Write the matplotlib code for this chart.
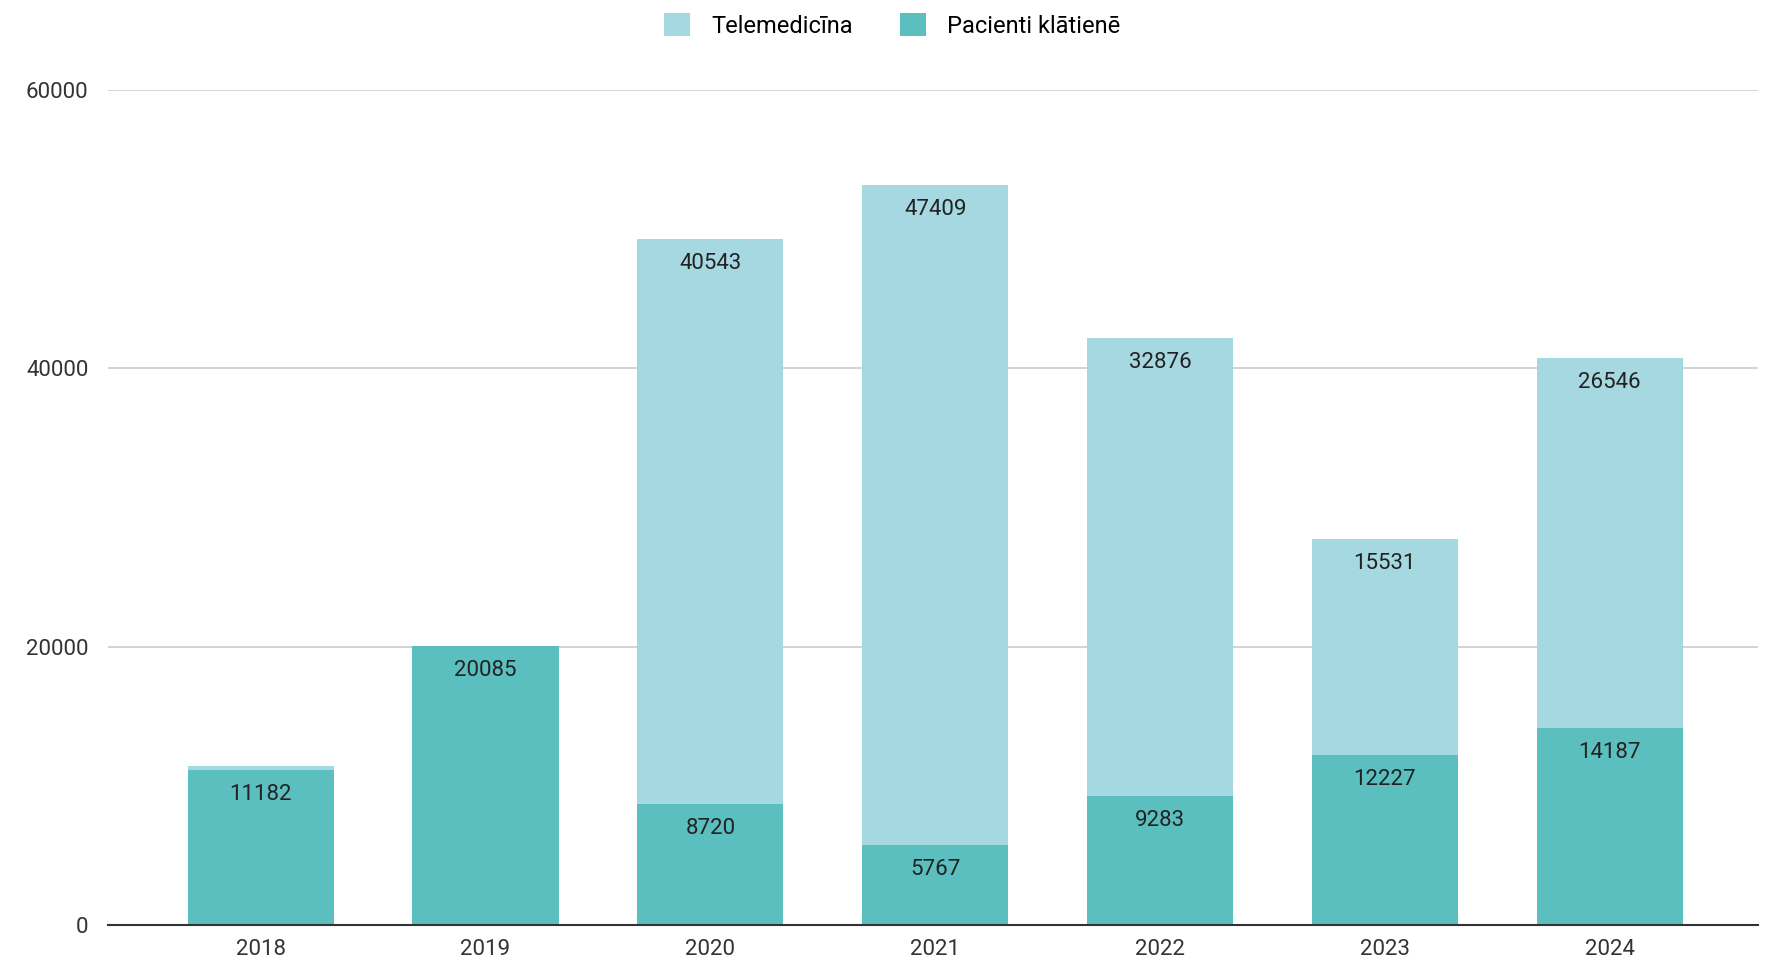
import numpy as np
import matplotlib.pyplot as plt

years = ['2018', '2019', '2020', '2021', '2022', '2023', '2024']
klatiene = [11182, 20085, 8720, 5767, 9283, 12227, 14187]
telemed = [250, 0, 40543, 47409, 32876, 15531, 26546]

c_tele = '#a5d8e0'
c_klat = '#5bbfbf'

plt.rcParams['font.family'] = ['Roboto', 'DejaVu Sans']

fig = plt.figure(figsize=(17.67, 9.73), dpi=100)
ax = fig.add_axes([0.061, 0.049, 0.934, 0.8585])

x = np.arange(len(years))
w = 0.65
b1 = ax.bar(x + 0.01, klatiene, w, color=c_klat, label='Pacienti klātienē', zorder=2)
b2 = ax.bar(x + 0.01, telemed, w, bottom=klatiene, color=c_tele, label='Telemedicīna', zorder=2)

# labels just under the top of each segment
for i in range(len(years)):
    ax.annotate(str(klatiene[i]), (x[i] + 0.01, klatiene[i]), xytext=(0, -10),
                textcoords='offset points', ha='center', va='top',
                fontsize=16, color='#222222', zorder=3)
    if telemed[i] > 2000:
        ax.annotate(str(telemed[i]), (x[i] + 0.01, klatiene[i] + telemed[i]), xytext=(0, -10),
                    textcoords='offset points', ha='center', va='top',
                    fontsize=16, color='#222222', zorder=3)

ax.set_xlim(-0.67, len(years) - 0.33)
ax.set_ylim(0, 60000)
ax.set_yticks([0, 20000, 40000, 60000])
ax.set_xticks(x + 0.01)
ax.set_xticklabels(years)
ax.tick_params(axis='both', length=0, labelsize=16, colors='#333333')
ax.tick_params(axis='y', pad=14)
ax.tick_params(axis='x', pad=10)
ax.grid(axis='y', color='#cccccc', linewidth=1.2, zorder=0)
for s in ['top', 'right', 'left']:
    ax.spines[s].set_visible(False)
ax.spines['bottom'].set_color('#333333')
ax.spines['bottom'].set_linewidth(1.5)
ax.spines['bottom'].set_zorder(4)

h, l = ax.get_legend_handles_labels()
fig.legend(h[::-1], l[::-1], loc='upper center', bbox_to_anchor=(0.505, 1.008), ncol=2,
           frameon=False, fontsize=17, handlelength=1.1, handleheight=1.1,
           columnspacing=2.0, handletextpad=0.9)

fig.savefig('out.png', dpi=100)
